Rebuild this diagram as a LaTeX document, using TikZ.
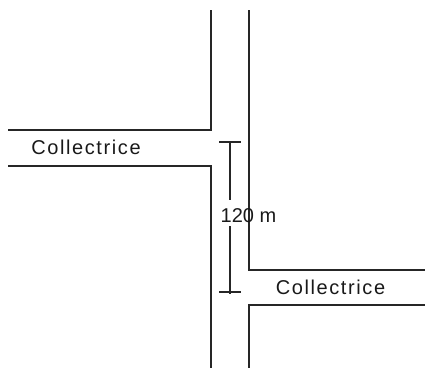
\documentclass[tikz,border=0pt]{standalone}
\usepackage{fontspec}
\setmainfont{Liberation Sans}
\newfontfamily\lblfont[LetterSpace=8]{Liberation Sans}
\begin{document}
\begin{tikzpicture}[x=1pt,y=-1pt,
  road/.style={draw=black!85,line width=1.4pt},
  dim/.style={draw=black!85,line width=1.3pt},
  lbl/.style={inner sep=0pt,font=\lblfont\fontsize{20}{20}\selectfont,text=black!90},
  dimlbl/.style={inner sep=0pt,font=\fontsize{20}{20}\selectfont,text=black!90}]
\useasboundingbox (0,0) rectangle (425,368);
% main road
\draw[road] (211,10) -- (211,130) -- (8,130);
\draw[road] (8,166) -- (211,166) -- (211,368);
\draw[road] (249,10) -- (249,270) -- (425,270);
\draw[road] (425,305) -- (249,305) -- (249,368);
% labels
\node[lbl] (c1) at (86,147) {Collectrice};
\node[lbl] (c2) at (330.5,287) {Collectrice};
\node[dimlbl] (d) at (248.5,216) {120 m};
% dimension
\coordinate (t1) at (219,142);
\coordinate (t2) at (241,142);
\coordinate (b1) at (219,292);
\coordinate (b2) at (241,292);
\coordinate (va) at (230,143);
\coordinate (vb) at (230,200);
\coordinate (vc) at (230,226);
\coordinate (vd) at (230,294);
\draw[dim] (t1) -- (t2);
\draw[dim] (b1) -- (b2);
\draw[dim] (va) -- (vb);
\draw[dim] (vc) -- (vd);
\end{tikzpicture}
\end{document}
